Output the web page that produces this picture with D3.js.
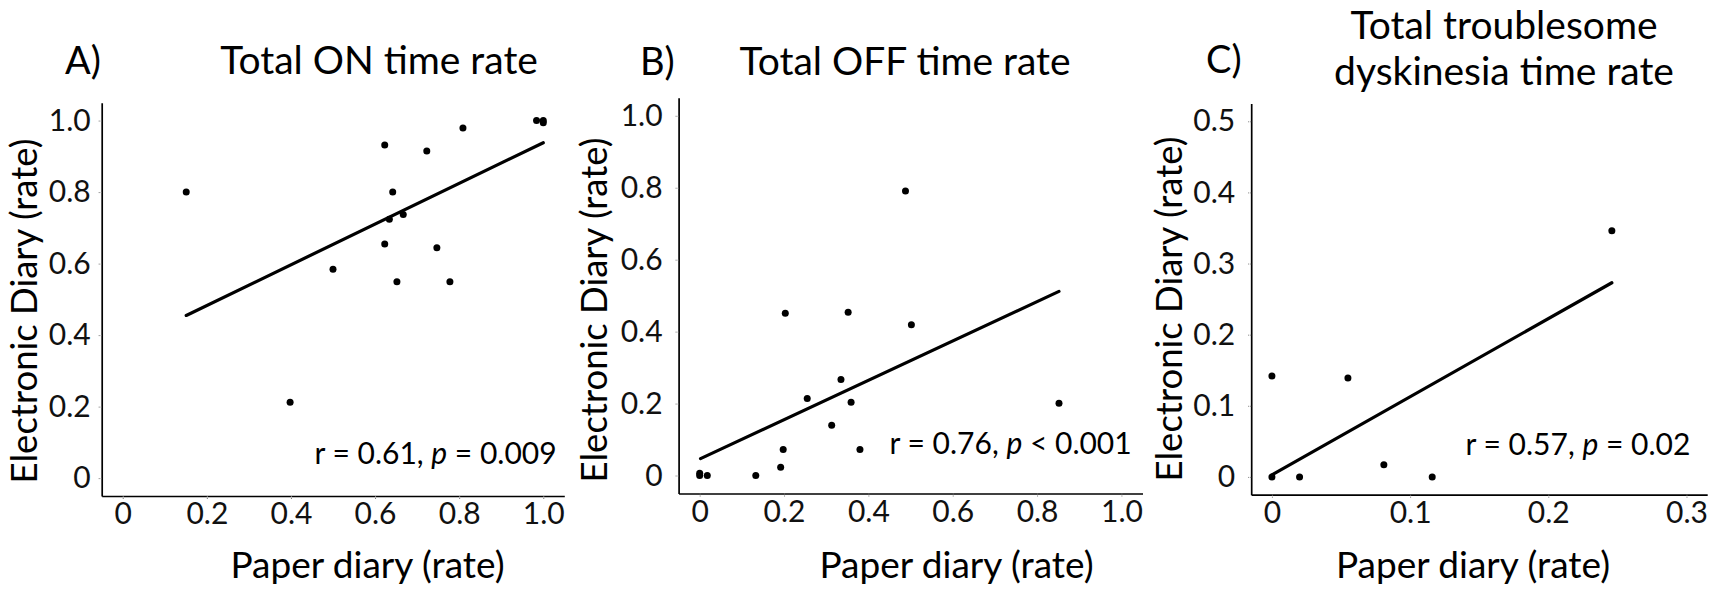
<!DOCTYPE html>
<html>
<head>
<meta charset="utf-8">
<script src="https://cdn.jsdelivr.net/npm/d3@7"></script>
<style>
  body { margin: 0; background: #fff; }
  svg { display: block; font-family: Lato, "Open Sans", sans-serif; }
</style>
</head>
<body>
<svg id="chart" width="1713" height="594"></svg>
<script>
// values (paper diary x, electronic diary y)
const paperOn   = [0.151, 0.398, 0.50, 0.623, 0.623, 0.634, 0.642, 0.652, 0.667, 0.723, 0.747, 0.778, 0.809, 0.984, 1.0, 1.0];
const ediaryOn  = [0.80, 0.212, 0.584, 0.932, 0.655, 0.724, 0.80, 0.549, 0.737, 0.915, 0.644, 0.549, 0.979, 1.0, 1.0, 0.994];
const fitOn     = [[0.151, 0.455], [1.0, 0.938]];

const paperOff  = [0, 0, 0.018, 0.133, 0.192, 0.198, 0.203, 0.255, 0.313, 0.335, 0.352, 0.359, 0.380, 0.488, 0.502, 0.852];
const ediaryOff = [0.006, 0, 0, 0, 0.023, 0.072, 0.451, 0.214, 0.140, 0.267, 0.454, 0.204, 0.072, 0.791, 0.419, 0.201];
const fitOff    = [[0.002, 0.047], [0.852, 0.512]];

const paperDys  = [0, 0, 0.020, 0.055, 0.081, 0.116, 0.246];
const ediaryDys = [0, 0.142, 0, 0.139, 0.017, 0, 0.346];
const fitDys    = [[0, 0.003], [0.246, 0.273]];

const ticksUnit  = [0, 0.2, 0.4, 0.6, 0.8, 1.0];
const ticksDysY  = [0, 0.1, 0.2, 0.3, 0.4, 0.5];
const ticksDysX  = [0, 0.1, 0.2, 0.3];

const statsText = [
  { r: "0.61", op: "=", p: "0.009" },
  { r: "0.76", op: "<", p: "0.001" },
  { r: "0.57", op: "=", p: "0.02" }
];

const fmt = d => d === 0 ? "0" : d3.format(".1f")(d);

const panels = [
  {
    tag: "A)", tagX: 65, tagY: 74,
    title: ["Total ON time rate"], titleX: 379, titleY: [74],
    xs: paperOn, ys: ediaryOn, fit: fitOn, stats: statsText[0],
    xDom: [-0.05, 1.05], yDom: [-0.05, 1.05],
    xRange: [101.7, 564.3], yRange: [496, 102.7],
    xTicks: ticksUnit, yTicks: ticksUnit, yPad: 7,
    yTitleX: 37, yTitleY: 311, xTitleX: 367.5, statsX: 556.6, statsY: 464
  },
  {
    tag: "B)", tagX: 640, tagY: 75,
    title: ["Total OFF time rate"], titleX: 905, titleY: [75],
    xs: paperOff, ys: ediaryOff, fit: fitOff, stats: statsText[1],
    xDom: [-0.05, 1.05], yDom: [-0.05, 1.05],
    xRange: [678.6, 1142.5], yRange: [493.5, 97.8],
    xTicks: ticksUnit, yTicks: ticksUnit, yPad: 12,
    yTitleX: 607, yTitleY: 310, xTitleX: 956.5, statsX: 1131.7, statsY: 454
  },
  {
    tag: "C)", tagX: 1206, tagY: 73,
    title: ["Total troublesome", "dyskinesia time rate"], titleX: 1504, titleY: [39, 85],
    xs: paperDys, ys: ediaryDys, fit: fitDys, stats: statsText[2],
    xDom: [-0.015, 0.315], yDom: [-0.025, 0.525],
    xRange: [1251.2, 1707.2], yRange: [494.7, 103.5],
    xTicks: ticksDysX, yTicks: ticksDysY, yPad: 12,
    yTitleX: 1182, yTitleY: 309, xTitleX: 1473, statsX: 1690.3, statsY: 455
  }
];

const svg = d3.select("#chart");
svg.append("rect").attr("width", 1713).attr("height", 594).attr("fill", "#fff");

panels.forEach(function(p) {
  const x = d3.scaleLinear().domain(p.xDom).range(p.xRange);
  const y = d3.scaleLinear().domain(p.yDom).range(p.yRange);
  const g = svg.append("g");

  // axes
  const xAxis = g.append("g")
    .attr("transform", `translate(0,${p.yRange[0]})`)
    .call(d3.axisBottom(x).tickValues(p.xTicks).tickFormat(fmt).tickSize(4).tickSizeOuter(0).tickPadding(3));
  const yAxis = g.append("g")
    .attr("transform", `translate(${p.xRange[0]},0)`)
    .call(d3.axisLeft(y).tickValues(p.yTicks).tickFormat(fmt).tickSize(4).tickSizeOuter(0).tickPadding(p.yPad));

  [xAxis, yAxis].forEach(function(a) {
    a.select(".domain").attr("stroke", "#000").attr("stroke-width", 1.7);
    a.selectAll(".tick line").attr("stroke", "#777").attr("stroke-width", 1).attr("stroke-dasharray", "1,1");
    a.selectAll(".tick text").attr("fill", "#111").style("font-size", "30px").style("font-family", "Lato, sans-serif");
  });

  // regression line
  g.append("line")
    .attr("x1", x(p.fit[0][0])).attr("y1", y(p.fit[0][1]))
    .attr("x2", x(p.fit[1][0])).attr("y2", y(p.fit[1][1]))
    .attr("stroke", "#000").attr("stroke-width", 3.2).attr("stroke-linecap", "round");

  // points
  g.selectAll("circle.pt")
    .data(d3.zip(p.xs, p.ys))
    .join("circle")
    .attr("class", "pt")
    .attr("cx", d => x(d[0]))
    .attr("cy", d => y(d[1]))
    .attr("r", 3.5)
    .attr("fill", "#000");

  // panel letter + title
  g.append("text").attr("x", p.tagX).attr("y", p.tagY)
    .style("font-size", "38px").attr("fill", "#000").text(p.tag);
  p.title.forEach(function(t, i) {
    g.append("text").attr("x", p.titleX).attr("y", p.titleY[i])
      .attr("text-anchor", "middle").style("font-size", "39px").attr("fill", "#000").text(t);
  });

  // axis titles
  g.append("text")
    .attr("transform", `translate(${p.yTitleX},${p.yTitleY}) rotate(-90)`)
    .attr("text-anchor", "middle").style("font-size", "36.5px").attr("fill", "#000")
    .text("Electronic Diary (rate)");
  g.append("text").attr("x", p.xTitleX).attr("y", 578)
    .attr("text-anchor", "middle").style("font-size", "37px").attr("fill", "#000")
    .text("Paper diary (rate)");

  // correlation label
  const st = g.append("text").attr("x", p.statsX).attr("y", p.statsY)
    .attr("text-anchor", "end").style("font-size", "30px").attr("fill", "#000");
  st.append("tspan").text(`r = ${p.stats.r}, `);
  st.append("tspan").style("font-style", "italic").text("p");
  st.append("tspan").text(` ${p.stats.op} ${p.stats.p}`);
});
</script>
</body>
</html>
